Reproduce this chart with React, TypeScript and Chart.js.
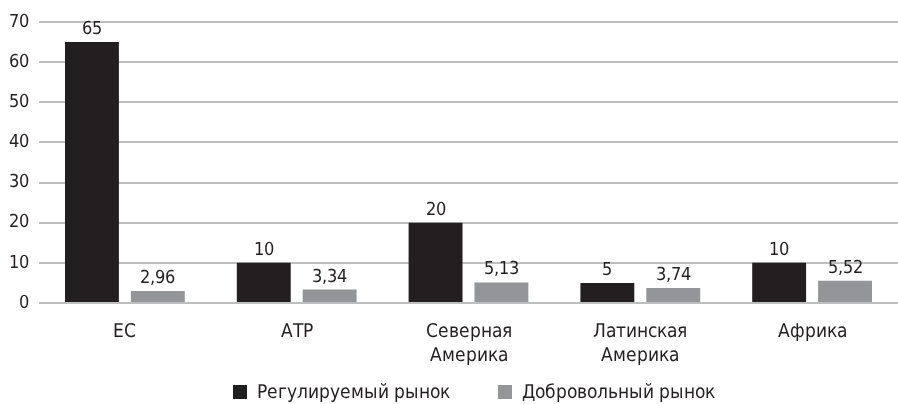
import React, { useEffect, useRef } from "react";
import { Chart, registerables } from "chart.js";

Chart.register(...registerables);

const categories: (string | string[])[] = ["ЕС", "АТР", ["Северная", "Америка"], ["Латинская", "Америка"], "Африка"];
const regulatedLabel = "Регулируемый рынок";
const voluntaryLabel = "Добровольный рынок";
const regulated = [65, 10, 20, 5, 10];
const voluntary = [2.96, 3.34, 5.13, 3.74, 5.52];
const yTicks = [0, 10, 20, 30, 40, 50, 60, 70];

const FONT = "'DVCond', 'DejaVu Sans'";
const TEXT = "#231f20";
const BLACK = "#231f20";
const GRAY = "#939598";
const GRID = "#bcbec0";

const fmt = (v: number) => (Number.isInteger(v) ? String(v) : v.toFixed(2).replace(".", ","));

const valueLabels = {
  id: "valueLabels",
  afterDatasetsDraw(chart: any) {
    const ctx = chart.ctx;
    ctx.save();
    ctx.font = `normal condensed 18px ${FONT}`;
    ctx.fillStyle = TEXT;
    ctx.textAlign = "center";
    ctx.textBaseline = "alphabetic";
    chart.data.datasets.forEach((ds: any, i: number) => {
      const meta = chart.getDatasetMeta(i);
      meta.data.forEach((bar: any, j: number) => {
        ctx.fillText(fmt(ds.data[j]), bar.x, bar.y - 8);
      });
    });
    ctx.restore();
  },
};

const customLegend = {
  id: "customLegend",
  afterDraw(chart: any) {
    const ctx = chart.ctx;
    ctx.save();
    ctx.font = `normal condensed 19px ${FONT}`;
    ctx.textBaseline = "middle";
    ctx.textAlign = "left";
    const y = 392;
    const box = 14;
    const starts = [233, 498];
    chart.data.datasets.forEach((ds: any, i: number) => {
      const x = starts[i];
      ctx.fillStyle = ds.backgroundColor;
      ctx.fillRect(x, y - box / 2, box, box);
      ctx.fillStyle = TEXT;
      ctx.fillText(ds.label, x + box + 10, y + 1);
    });
    ctx.restore();
  },
};

export default function App() {
  const ref = useRef<HTMLCanvasElement>(null);
  useEffect(() => {
    document.body.style.margin = "0";
    let chart: Chart | null = null;
    let cancelled = false;
    const build = () => {
      if (cancelled || !ref.current) return;
      chart = new Chart(ref.current, {
        type: "bar",
        data: {
          labels: categories,
          datasets: [
            { label: regulatedLabel, data: regulated, backgroundColor: BLACK, categoryPercentage: 0.767, barPercentage: 0.818 },
            { label: voluntaryLabel, data: voluntary, backgroundColor: GRAY, categoryPercentage: 0.767, barPercentage: 0.818 },
          ],
        },
        options: {
          animation: false,
          responsive: false,
          maintainAspectRatio: false,
          layout: { padding: { top: 22, bottom: 19, right: 0, left: 0 } },
          plugins: { legend: { display: false }, tooltip: { enabled: false } },
          scales: {
            x: {
              grid: { display: false, drawTicks: false },
              border: { display: false },
              ticks: { color: TEXT, font: { family: FONT, size: 19, lineHeight: "24px" as any }, padding: 17, maxRotation: 0, autoSkip: false },
            },
            y: {
              min: 0,
              max: 70,
              afterBuildTicks: (s: any) => { s.ticks = yTicks.map((v) => ({ value: v })); },
              afterFit: (s: any) => { s.width = 39; },
              grid: { color: GRID, lineWidth: 2, drawTicks: false },
              border: { display: false },
              ticks: { color: TEXT, font: { family: FONT, size: 18 }, padding: 10 },
            },
          },
        },
        plugins: [valueLabels, customLegend],
      });
    };
    try {
      const ff = new FontFace("DVCond", "local('DejaVu Sans Condensed'), local('DejaVuSansCondensed')");
      ff.load()
        .then((f) => { (document as any).fonts.add(f); build(); })
        .catch(() => build());
    } catch (e) {
      build();
    }
    return () => { cancelled = true; if (chart) chart.destroy(); };
  }, []);
  return (
    <div style={{ width: 898, height: 404 }}>
      <canvas ref={ref} width={898} height={404} style={{ display: "block" }} />
    </div>
  );
}
